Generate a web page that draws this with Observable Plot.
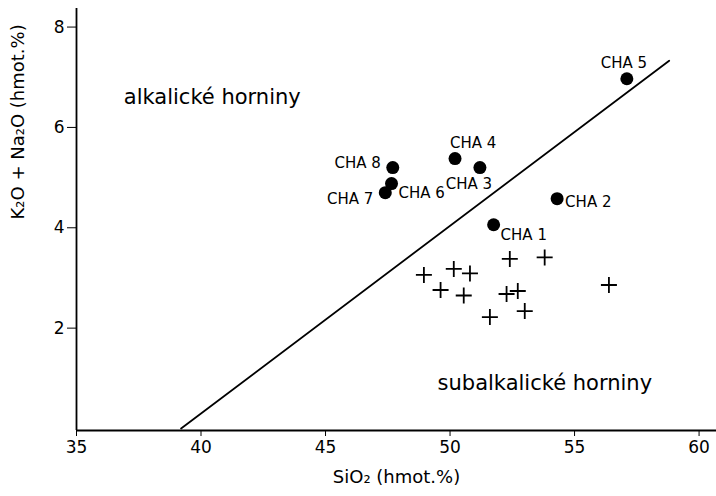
<!DOCTYPE html>
<html><head><meta charset="utf-8">
<script src="https://cdn.jsdelivr.net/npm/d3@7"></script>
<script src="https://cdn.jsdelivr.net/npm/@observablehq/plot@0.6"></script>
<style>body{margin:0;background:#fff}</style>
</head><body><div id="chart"></div>
<script>
// Labelled samples (dots)
const sampleNames = ["CHA 1", "CHA 2", "CHA 3", "CHA 4", "CHA 5", "CHA 6", "CHA 7", "CHA 8"];
const sampleSiO2  = [51.75, 54.3, 51.2, 50.2, 57.1, 47.65, 47.4, 47.7];
const sampleAlk   = [4.06, 4.58, 5.2, 5.38, 6.97, 4.88, 4.7, 5.2];
// Other samples (crosses)
const otherSiO2 = [48.95, 49.62, 50.15, 50.8, 50.55, 51.6, 52.4, 53.8, 52.27, 52.72, 53.0, 56.38];
const otherAlk  = [3.06, 2.76, 3.18, 3.09, 2.65, 2.22, 3.38, 3.41, 2.68, 2.74, 2.34, 2.86];
// Alkaline / subalkaline boundary
const boundarySiO2 = [39.2, 58.8];
const boundaryAlk  = [0, 7.33];
// Field labels
const fieldLabels = ["alkalické horniny", "subalkalické horniny"];
const fieldSiO2 = [36.9, 49.5];
const fieldAlk  = [6.6, 0.9];
// Axis titles and ticks
const xTitle = "SiO₂ (hmot.%)";
const yTitle = "K₂O + Na₂O (hmot.%)";
const xTicks = [35, 40, 45, 50, 55, 60];
const yTicks = [2, 4, 6, 8];

// label placement (style, kept separate from data)
const labelPlace = {
  "CHA 1": {dx: 7, dy: 10, textAnchor: "start"},
  "CHA 2": {dx: 8, dy: 4, textAnchor: "start"},
  "CHA 3": {dx: -11, dy: 17, textAnchor: "middle"},
  "CHA 4": {dx: -5, dy: -15, textAnchor: "start"},
  "CHA 5": {dx: -3, dy: -16, textAnchor: "middle"},
  "CHA 6": {dx: 7, dy: 10, textAnchor: "start"},
  "CHA 7": {dx: -12, dy: 7, textAnchor: "end"},
  "CHA 8": {dx: -12, dy: -4, textAnchor: "end"}
};

const samples = sampleNames.map((n, i) => ({name: n, x: sampleSiO2[i], y: sampleAlk[i]}));
const others = otherSiO2.map((x, i) => ({x, y: otherAlk[i]}));
const boundary = boundarySiO2.map((x, i) => ({x, y: boundaryAlk[i]}));
const fields = fieldLabels.map((t, i) => ({t, x: fieldSiO2[i], y: fieldAlk[i]}));

const crossSymbol = {
  draw(ctx, size) {
    const r = Math.sqrt(size / Math.PI);
    ctx.moveTo(-r, 0); ctx.lineTo(r, 0);
    ctx.moveTo(0, -r); ctx.lineTo(0, r);
  }
};

const font = "'DejaVu Sans', Roboto, sans-serif";

const chart = Plot.plot({
  width: 716,
  height: 496,
  marginLeft: 76,
  marginRight: 0,
  marginTop: 8,
  marginBottom: 66,
  style: {fontFamily: font, fontSize: "16px", color: "#000", background: "#fff"},
  x: {domain: [35, 60.7]},
  y: {domain: [-0.04, 8.37]},
  marks: [
    Plot.axisX({ticks: xTicks, tickSize: 6, tickPadding: 4, fontSize: 17, label: null}),
    Plot.axisY({ticks: yTicks, tickSize: 9, tickPadding: 3, fontSize: 17, label: null}),
    Plot.text([xTitle], {frameAnchor: "bottom", dy: 52, fontSize: 18}),
    Plot.text([yTitle], {frameAnchor: "left", dx: -58, rotate: -90, fontSize: 18}),
    Plot.ruleX([35], {strokeWidth: 1.8}),
    Plot.ruleY([-0.04], {strokeWidth: 1.8}),
    Plot.line(boundary, {x: "x", y: "y", stroke: "black", strokeWidth: 1.8}),
    Plot.dot(others, {x: "x", y: "y", symbol: crossSymbol, r: 8, stroke: "black", strokeWidth: 1.8, fill: "none"}),
    Plot.dot(samples, {x: "x", y: "y", r: 6.5, fill: "black", stroke: "none"}),
    ...samples.map(s => Plot.text([s], {x: "x", y: "y", text: "name", fontSize: 15,
      ...labelPlace[s.name]})),
    Plot.text(fields, {x: "x", y: "y", text: "t", textAnchor: "start", fontSize: 21})
  ]
});
document.getElementById("chart").appendChild(chart);
</script>
</body></html>
